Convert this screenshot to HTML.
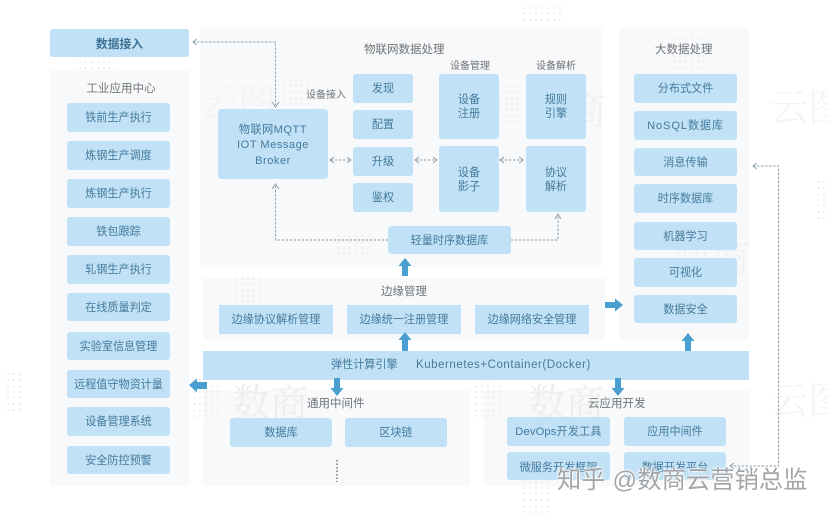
<!DOCTYPE html>
<html><head><meta charset="utf-8">
<style>
html,body{margin:0;padding:0;background:#fff}
#c{position:relative;width:828px;height:514px;overflow:hidden;background:#fff;font-family:"Liberation Sans","Noto Sans CJK SC",sans-serif;filter:blur(.35px)}
.p{position:absolute;background:#f8f9fa}
.b{position:absolute;box-sizing:border-box;padding-top:1px;background:#c0e1f6;border-radius:3px;color:#457a9c;font-size:11.1px;display:flex;align-items:center;justify-content:center;text-align:center;line-height:14px;white-space:nowrap}
.t{position:absolute;color:#6f7478;font-size:11.5px;white-space:nowrap;line-height:14px}
svg{position:absolute;left:0;top:0}
#w{position:absolute;left:557px;top:466px;font-size:24.2px;line-height:30px;color:#a3a6a9;white-space:nowrap;letter-spacing:.15px;text-shadow:0 0 2px #fff,0 0 2px #fff,0 0 3px #fff}
.wm{position:absolute;color:#f0f1f2;font-size:38px;line-height:40px;white-space:nowrap;font-family:"Noto Serif CJK SC",serif}
</style></head><body><div id="c">
<div class="p" style="left:50px;top:70px;width:139px;height:416px"></div>
<div class="p" style="left:200px;top:28px;width:402px;height:239px"></div>
<div class="p" style="left:203px;top:278px;width:402px;height:62px"></div>
<div class="p" style="left:203px;top:390px;width:267px;height:96px"></div>
<div class="p" style="left:484px;top:390px;width:266px;height:96px"></div>
<div class="p" style="left:619px;top:28px;width:130px;height:312px"></div>

<svg width="828" height="514">
<defs><pattern id="d" width="6" height="6" patternUnits="userSpaceOnUse"><circle cx="2" cy="2" r="1" fill="#e8eaec"/></pattern></defs>
<rect x="78" y="35" width="38" height="38" fill="url(#d)"/>
<rect x="278" y="80" width="32" height="40" fill="url(#d)"/>
<rect x="480" y="85" width="40" height="40" fill="url(#d)"/>
<rect x="523" y="3" width="38" height="20" fill="url(#d)"/>
<rect x="668" y="35" width="36" height="36" fill="url(#d)"/>
<rect x="3" y="373" width="20" height="40" fill="url(#d)"/>
<rect x="190" y="380" width="30" height="40" fill="url(#d)"/>
<rect x="475" y="380" width="30" height="40" fill="url(#d)"/>
<rect x="230" y="275" width="36" height="30" fill="url(#d)"/>
<rect x="335" y="235" width="35" height="25" fill="url(#d)"/>
<rect x="520" y="480" width="30" height="34" fill="url(#d)"/>
<rect x="815" y="180" width="13" height="40" fill="url(#d)"/>
</svg>
<div class="wm" style="left:232px;top:380px;color:#eceeef">数商</div>
<div class="wm" style="left:528px;top:380px;color:#eceeef">数商</div>
<div class="wm" style="left:530px;top:88px">数商</div>
<div class="wm" style="left:674px;top:235px">数商</div>
<div class="wm" style="left:200px;top:80px;color:#f3f4f5">云图</div>
<div class="wm" style="left:770px;top:85px;color:#f3f4f5">云图</div>
<div class="wm" style="left:770px;top:378px;color:#f3f4f5">云图</div>

<div class="b" style="left:50px;top:29px;width:139px;height:28px;font-weight:bold;font-size:11.8px;color:#3f7396">数据接入</div>
<div class="t" style="left:86px;top:82px;width:70px;text-align:center">工业应用中心</div>
<div class="b" style="left:67px;top:103px;width:103px;height:29px">铁前生产执行</div>
<div class="b" style="left:67px;top:141px;width:103px;height:29px">炼钢生产调度</div>
<div class="b" style="left:67px;top:179px;width:103px;height:29px">炼钢生产执行</div>
<div class="b" style="left:67px;top:217px;width:103px;height:29px">铁包跟踪</div>
<div class="b" style="left:67px;top:255px;width:103px;height:29px">轧钢生产执行</div>
<div class="b" style="left:67px;top:293px;width:103px;height:28px">在线质量判定</div>
<div class="b" style="left:67px;top:332px;width:103px;height:28px">实验室信息管理</div>
<div class="b" style="left:67px;top:370px;width:103px;height:28px">远程值守物资计量</div>
<div class="b" style="left:67px;top:407px;width:103px;height:29px">设备管理系统</div>
<div class="b" style="left:67px;top:446px;width:103px;height:28px">安全防控预警</div>

<div class="t" style="left:364px;top:43px">物联网数据处理</div>
<div class="t" style="left:306px;top:89px;font-size:10px">设备接入</div>
<div class="t" style="left:450px;top:60px;font-size:10px">设备管理</div>
<div class="t" style="left:536px;top:60px;font-size:10px">设备解析</div>
<div class="b" style="left:218px;top:109px;width:110px;height:70px;line-height:15.5px;font-size:11.1px;letter-spacing:.5px;padding-top:4px">物联网MQTT<br>IOT Message<br>Broker</div>
<div class="b" style="left:353px;top:74px;width:60px;height:29px">发现</div>
<div class="b" style="left:353px;top:110px;width:60px;height:29px">配置</div>
<div class="b" style="left:353px;top:147px;width:60px;height:29px">升级</div>
<div class="b" style="left:353px;top:183px;width:60px;height:29px">鉴权</div>
<div class="b" style="left:439px;top:74px;width:60px;height:65px">设备<br>注册</div>
<div class="b" style="left:439px;top:146px;width:60px;height:66px">设备<br>影子</div>
<div class="b" style="left:526px;top:74px;width:60px;height:65px">规则<br>引擎</div>
<div class="b" style="left:526px;top:146px;width:60px;height:66px">协议<br>解析</div>
<div class="b" style="left:388px;top:226px;width:123px;height:28px">轻量时序数据库</div>

<div class="t" style="left:655px;top:43px">大数据处理</div>
<div class="b" style="left:634px;top:74px;width:103px;height:29px">分布式文件</div>
<div class="b" style="left:634px;top:111px;width:103px;height:29px;letter-spacing:.9px">NoSQL数据库</div>
<div class="b" style="left:634px;top:148px;width:103px;height:28px">消息传输</div>
<div class="b" style="left:634px;top:184px;width:103px;height:29px">时序数据库</div>
<div class="b" style="left:634px;top:222px;width:103px;height:28px">机器学习</div>
<div class="b" style="left:634px;top:258px;width:103px;height:29px">可视化</div>
<div class="b" style="left:634px;top:295px;width:103px;height:28px">数据安全</div>

<div class="t" style="left:381px;top:285px">边缘管理</div>
<div class="b" style="left:219px;top:305px;width:114px;height:29px;border-radius:0">边缘协议解析管理</div>
<div class="b" style="left:347px;top:305px;width:114px;height:29px;border-radius:0">边缘统一注册管理</div>
<div class="b" style="left:475px;top:305px;width:114px;height:29px;border-radius:0">边缘网络安全管理</div>

<div class="b" style="left:203px;top:351px;width:546px;height:29px;border-radius:0"></div>
<div class="t" style="left:331px;top:358px;color:#457a9c;font-size:11.1px">弹性计算引擎</div>
<div class="t" style="left:416px;top:358px;color:#457a9c;font-size:11.5px;letter-spacing:.55px">Kubernetes+Container(Docker)</div>

<div class="t" style="left:307px;top:397px">通用中间件</div>
<div class="t" style="left:588px;top:397px">云应用开发</div>
<div class="b" style="left:230px;top:418px;width:102px;height:29px">数据库</div>
<div class="b" style="left:345px;top:418px;width:102px;height:29px">区块链</div>
<div class="b" style="left:507px;top:417px;width:103px;height:29px;letter-spacing:.2px">DevOps开发工具</div>
<div class="b" style="left:624px;top:417px;width:102px;height:29px">应用中间件</div>
<div class="b" style="left:507px;top:452px;width:103px;height:28px;align-items:flex-start"><span style="margin-top:8px">微服务开发框架</span></div>
<div class="b" style="left:624px;top:452px;width:102px;height:28px;align-items:flex-start"><span style="margin-top:8px">数据开发平台</span></div>

<svg width="828" height="514" fill="none">
<g stroke="#8fa0aa" stroke-width="1" stroke-dasharray="2.5 1.5">
<path d="M193 42H275.500V105"/>
<path d="M275.500 186V240H388"/>
<path d="M511 240H558V216"/>
<path d="M331 160H350"/>
<path d="M416 160H436"/>
<path d="M501 160H522"/>
<path d="M753 166H778.500V466H731"/>
</g>
<g stroke="#8fa0aa" stroke-width="1">
<path d="M197 39l-4 3 4 3"/>
<path d="M272 102l3.500 5 3.500-5"/>
<path d="M272 189l3.500-5 3.500 5"/>
<path d="M555 219l3-5 3 5"/>
<path d="M334 157l-4 3 4 3M347 157l4 3-4 3"/>
<path d="M419 157l-4 3 4 3M433 157l4 3-4 3"/>
<path d="M504 157l-4 3 4 3M519 157l4 3-4 3"/>
<path d="M757 163l-4 3 4 3"/>
<path d="M734 463l-4 3 4 3"/>
</g>
<path d="M337 460V482" stroke="#777" stroke-width="1.500" stroke-dasharray="1.500 2"/>
<g fill="#4b9fd0">
<path d="M405 258l6.500 8h-3.500v10h-6v-10h-3.500z"/>
<path d="M405 332l6.500 8h-3.500v11h-6v-11h-3.500z"/>
<path d="M688 333l6.500 8h-3.500v10h-6v-10h-3.500z"/>
<path d="M623 305l-8-6.500v3.500h-10v6h10v3.500z"/>
<path d="M189 385l8-6.500v3.500h10v7h-10v3.500z"/>
<path d="M337 396l-6.500-8h3.500v-10h6v10h3.500z"/>
<path d="M618 396l-6.500-8h3.500v-10h6v10h3.500z"/>
</g>
</svg>
<div id="w">知乎 @数商云营销总监</div>
</div></body></html>
